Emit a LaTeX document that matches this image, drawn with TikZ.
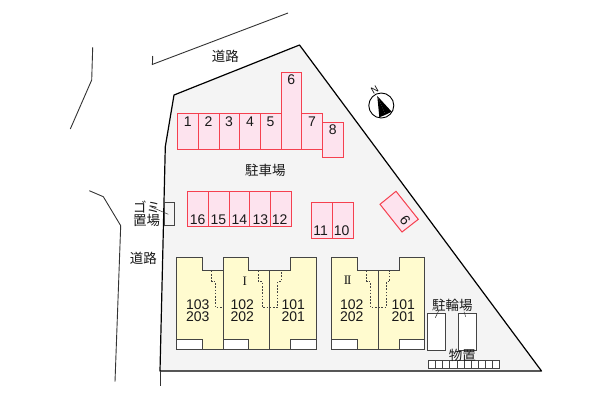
\documentclass[tikz,border=0pt]{standalone}
\usepackage{fontspec}
\setmainfont{Liberation Sans}
\newfontfamily\jp{Noto Sans CJK JP}
\newfontfamily\rom{Liberation Serif}
\definecolor{site}{HTML}{F4F4F4}
\definecolor{slot}{HTML}{FDE3EE}
\definecolor{slotline}{HTML}{F5404F}
\definecolor{bld}{HTML}{FFFBCF}
\definecolor{bldline}{HTML}{444444}
\tikzset{
  road/.style={draw=black!80,line width=0.9pt},
  slotbox/.style={draw=slotline,fill=slot,line width=1pt},
  num/.style={font=\fontsize{14}{14}\selectfont,inner sep=0pt,text=black!90},
  unit/.style={font=\fontsize{14}{12.4}\selectfont,inner sep=0pt,text=black!90,align=center},
  lab/.style={font=\jp\fontsize{13.5}{13.5}\selectfont,inner sep=0pt,text=black!90},
  romlab/.style={font=\rom\fontsize{13}{13}\selectfont,inner sep=0pt,text=black!90},
  wall/.style={draw=bldline,line width=0.8pt},
  dashline/.style={draw=bldline,line width=0.7pt,dash pattern=on 1.6pt off 1.6pt},
  shed/.style={draw=bldline,fill=white,line width=0.8pt},
  leader/.style={draw=black!80,line width=0.5pt}
}
\begin{document}
\begin{tikzpicture}[x=1pt,y=-1pt]
\useasboundingbox (0,0) rectangle (600,400);
\fill[white] (0,0) rectangle (600,400);
% roads
\draw[road] (152.7,56) -- (152.4,64.4) -- (288,13);
\draw[road] (92.7,47.3) -- (91.7,80) -- (70.3,129);
\draw[road] (89.3,190.7) -- (103.3,196.7) -- (120.7,225.7) -- (115,381.7);
% site
\draw[fill=site,draw=black,line width=1.2pt,line join=round] (174,95) -- (299.5,45) -- (541.5,371) -- (160,371) -- (165.3,146.7) -- cycle;
\draw[road] (160,371) -- (160,386);
% parking row 1
\foreach \x/\t in {177.3/1,198/2,218.7/3,239.3/4,260/5,301.3/7}
  \node[slotbox,anchor=north west,minimum width=20.7pt,minimum height=35.4pt,inner sep=0pt] (s\t) at (\x,113.3) {};
\node[slotbox,anchor=north west,minimum width=20.7pt,minimum height=77pt,inner sep=0pt] (s6) at (280.7,71.7) {};
\node[slotbox,anchor=north west,minimum width=20.7pt,minimum height=35.6pt,inner sep=0pt] (s8) at (322,121.7) {};
\foreach \x/\t in {187.7/1,208.4/2,229/3,250/4,270.6/5,312/7}
  \node[num] (n\t) at (\x,121.3) {\t};
\node[num] (n6) at (291.3,80) {6};
\node[num] (n8) at (332.7,129.3) {8};
% parking row 2
\foreach \x/\t in {187.3/16,208/15,228.7/14,249.4/13,270/12}
  \node[slotbox,anchor=north west,minimum width=20.7pt,minimum height=35.6pt,inner sep=0pt] (s\t) at (\x,190.7) {};
\foreach \x/\t in {197.7/16,218.3/15,239.3/14,260.3/13,279.7/12}
  \node[num] (n\t) at (\x,219.3) {\t};
\foreach \x/\t in {311.3/11,332.3/10}
  \node[slotbox,anchor=north west,minimum width=20.8pt,minimum height=36pt,inner sep=0pt] (s\t) at (\x,202) {};
\node[num] (n11) at (320.7,230.7) {11};
\node[num] (n10) at (341.7,230.7) {10};
% slot 9
\draw[slotbox] (380,204.3) -- (396,191.3) -- (418.3,219.3) -- (402,232) -- cycle;
\node[num,rotate=128] (n9) at (405.3,220.7) {9};
% compass
\node[draw=black,fill=white,circle,line width=0.9pt,minimum size=25pt,inner sep=0pt] (comp) at (381.3,105.5) {};
\fill[black] (377.3,96) -- (391.7,111.7) -- (385.5,114.8) -- cycle;
\fill[black] (377.3,96) -- (379.3,117.3) -- (385.5,114.8) -- cycle;
\node[font=\fontsize{9.5}{9.5}\selectfont,inner sep=0pt,rotate=30] (cn) at (374.7,90) {N};
% gomi box
\node[draw=bldline,fill=site,line width=0.8pt,anchor=north west,minimum width=10pt,minimum height=22.7pt,inner sep=0pt] (gomi) at (164.3,202.3) {};
\coordinate (gl) at (150.7,206.7);
\draw[leader] (gl) -- (168.3,214.3);
% building I
\draw[wall,fill=bld] (176.7,257.3) -- (202.3,257.3) -- (202.3,270.7) -- (223.3,270.7) -- (223.3,257.3) -- (248.7,257.3) -- (248.7,270.7) -- (290.7,270.7) -- (290.7,257.3) -- (316,257.3) -- (316,349.3) -- (176.7,349.3) -- cycle;
\draw[wall] (223.3,257.3) -- (223.3,349.3);
\draw[wall] (269.3,270.7) -- (269.3,349.3);
\foreach \x/\w in {176.7/25.6,223.3/25.4,290.7/25.3}
  \draw[shed] (\x,339.3) rectangle ++(\w,10);
\draw[dashline] (211.7,270.7) -- (211.7,281.7) -- (215.3,281.7) -- (215.3,307.3) -- (223.3,307.3);
\draw[dashline] (258.3,270.7) -- (258.3,281.7) -- (262.3,281.7) -- (262.3,307.3) -- (277.7,307.3) -- (277.7,281.7) -- (281,281.7) -- (281,270.7);
\node[romlab] (b1) at (244.7,281.7) {I};
\foreach \x/\a/\b in {197.7/103/203,242.3/102/202,293.3/101/201}
  \node[unit] at (\x,310.5) {\a\\\b};
% building II
\draw[wall,fill=bld] (331.7,257.3) -- (357.3,257.3) -- (357.3,270.7) -- (399,270.7) -- (399,257.3) -- (424.3,257.3) -- (424.3,349.3) -- (331.7,349.3) -- cycle;
\draw[wall] (378.3,270.7) -- (378.3,349.3);
\foreach \x/\w in {331.7/25.6,399/25.3}
  \draw[shed] (\x,339.3) rectangle ++(\w,10);
\draw[dashline] (366.7,270.7) -- (366.7,281.7) -- (370.3,281.7) -- (370.3,307.3) -- (386.3,307.3) -- (386.3,281.7) -- (389.7,281.7) -- (389.7,270.7);
\node[romlab] (b2) at (347.7,280.7) {I\kern-1.2pt I};
\foreach \x/\a/\b in {351.7/102/202,403.3/101/201}
  \node[unit] at (\x,310.5) {\a\\\b};
% bike sheds
\node[shed,anchor=north west,minimum width=18.6pt,minimum height=36.7pt,inner sep=0pt] (bk1) at (426.7,313.3) {};
\node[shed,anchor=north west,minimum width=18.6pt,minimum height=36.7pt,inner sep=0pt] (bk2) at (457.7,313.3) {};
\coordinate (bl1) at (439,310);
\coordinate (bl2) at (464,311.7);
\draw[leader] (bl1) -- (435.3,317.7);
\draw[leader] (bl2) -- (465.7,316.7);
% storage
\foreach \i in {0,...,9}
  \draw[shed] (428.7+\i*7.06,360.7) rectangle ++(7.06,7.6);
% labels
\node[lab] (t1) at (225.3,56.7) {道路};
\node[lab] (t2) at (143.3,258.3) {道路};
\node[lab] (t3) at (265.3,170) {駐車場};
\node[lab,align=center,font=\jp\fontsize{13.5}{13}\selectfont] (t4) at (146.5,213.3) {ゴミ\\置場};
\node[lab] (t6) at (452.3,305.7) {駐輪場};
\node[lab] (t7) at (462.3,355) {物置};
\end{tikzpicture}
\end{document}
